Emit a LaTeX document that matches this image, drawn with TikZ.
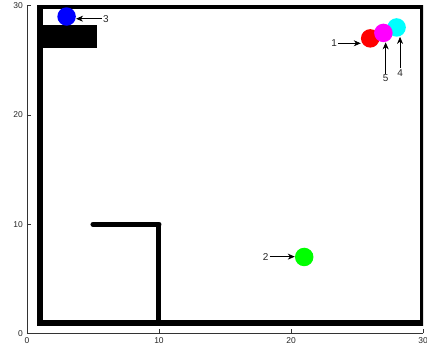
\documentclass[tikz,border=0pt]{standalone}
\usepackage{fontspec}
\setmainfont{Liberation Sans}
\usetikzlibrary{arrows.meta}
\definecolor{ballred}{RGB}{255,0,0}
\definecolor{ballgreen}{RGB}{0,255,0}
\definecolor{ballblue}{RGB}{0,0,255}
\definecolor{ballcyan}{RGB}{0,255,255}
\definecolor{ballmag}{RGB}{255,0,255}
\begin{document}
\begin{tikzpicture}[x=13.2bp,y=10.93bp,
  wall/.style={line width=6bp},
  iwall/.style={line width=5bp},
  ball/.style={circle,inner sep=0pt,minimum size=18.5bp},
  lab/.style={inner sep=1bp,font=\fontsize{10}{11}\selectfont,text=black!85},
  ticklab/.style={font=\fontsize{8.5}{9}\selectfont,text=black!85,inner sep=0pt},
  arr/.style={-{Stealth[length=7bp,width=6bp]},line width=0.7bp},
  axisline/.style={line width=0.6bp,draw=black!80}]
\useasboundingbox (-2.045,-1.235) rectangle (30.303,30.512);
% axes
\draw[axisline] (0,30) -- (0,0) -- (30,0);
\foreach \v in {0,10,20,30}{
  \draw[axisline] (\v,0) -- ++(0,4bp);
  \draw[axisline] (0,\v) -- ++(4bp,0);
  \node[ticklab,below=4bp] (xt\v) at (\v,0) {\v};
  \node[ticklab,left=4bp] (yt\v) at (0,\v) {\v};
}
% outer walls (clipped at axis limits)
\begin{scope}
  \clip (0,0) rectangle (30,30);
  \draw[wall] (1,1) rectangle (30,30);
\end{scope}
% obstacle block
\fill (1.2,26.09) rectangle (5.28,28.2);
% inner wall
\draw[iwall,line cap=round] (5,10) -- (10,10);
\draw[iwall] (10,9.8) -- (10,1);
% balls
\node[ball,fill=ballred] (b1) at (26,27) {};
\node[ball,fill=ballgreen] (b2) at (21,7) {};
\node[ball,fill=ballblue] (b3) at (3,29) {};
\node[ball,fill=ballcyan] (b4) at (28,28) {};
\node[ball,fill=ballmag] (b5) at (27,27.5) {};
% labels
\node[lab] (l1) at (23.26,26.55) {1};
\node[lab] (l2) at (18.08,7.03) {2};
\node[lab] (l3) at (5.98,28.8) {3};
\node[lab] (l4) at (28.26,23.86) {4};
\node[lab] (l5) at (27.17,23.35) {5};
% arrows
\draw[arr] (l1.east) -- (l1 -| b1.west);
\draw[arr] (l2.east) -- (l2 -| b2.west);
\draw[arr] (l3.west) -- (l3 -| b3.east);
\draw[arr] (l4.north) -- (l4 |- b4.south);
\draw[arr] (l5.north) -- (l5 |- b5.south);
\end{tikzpicture}
\end{document}
